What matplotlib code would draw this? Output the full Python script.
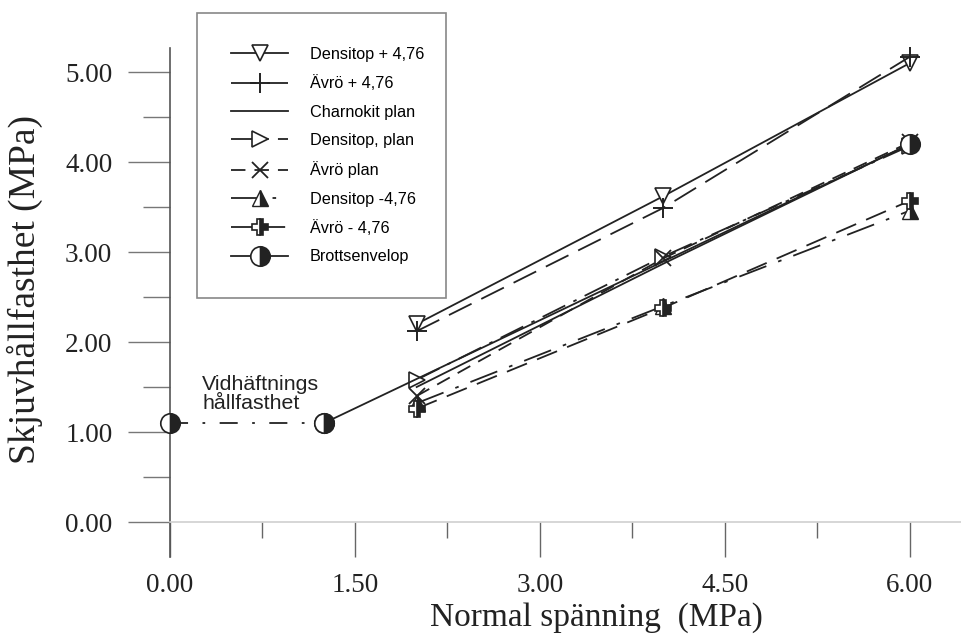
import matplotlib
matplotlib.use("Agg")
import matplotlib.pyplot as plt

# ======== Data =========

normal_stress = [2.0, 4.0, 6.0]

densitop_plus = [2.20, 3.62, 5.10]
avro_plus = [2.12, 3.49, 5.17]
charnokit_plan = [1.50, 2.87, 4.20]
densitop_plan = [1.58, 2.95, 4.18]
avro_plan = [1.40, 2.93, 4.22]
densitop_minus = [1.32, 2.40, 3.46]
avro_minus = [1.26, 2.38, 3.57]

# Brottsenvelop: flat adhesion part, then the rising failure line
adhesion_x = [0.0, 1.25]
adhesion_y = [1.10, 1.10]
envelope_x = [1.25, 6.0]
envelope_y = [1.10, 4.20]

x_major = [0.0, 1.5, 3.0, 4.5, 6.0]
x_minor = [0.75, 2.25, 3.75, 5.25]
y_major = [0.0, 1.0, 2.0, 3.0, 4.0, 5.0]
y_minor = [0.5, 1.5, 2.5, 3.5, 4.5]

# ======== Figure =========

W, H = 961, 636
fig = plt.figure(figsize=(W / 100, H / 100), dpi=100)
ax = fig.add_axes([170 / W, 79 / H, 791 / W, 509 / H])
ax.set_xlim(0, 791 / 123.33)
ax.set_ylim(-35 / 90, 474 / 90)

ink = "#222222"
lw = 1.3

ax.plot(normal_stress, densitop_plus, color=ink, lw=lw, ls="-",
        marker="v", ms=11, mfc="white", mec=ink, mew=1.2,
        label="Densitop + 4,76", clip_on=False)
ax.plot(normal_stress, avro_plus, color=ink, lw=lw, dashes=(14, 6),
        marker="+", ms=15, mec=ink, mew=1.4,
        label="Ävrö + 4,76", clip_on=False)
ax.plot(normal_stress, charnokit_plan, color=ink, lw=lw, ls="-",
        label="Charnokit plan", clip_on=False)
ax.plot(normal_stress, densitop_plan, color=ink, lw=lw, dashes=(14, 5, 2, 5),
        marker=">", ms=11, mfc="white", mec=ink, mew=1.2,
        label="Densitop, plan", clip_on=False)
ax.plot(normal_stress, avro_plan, color=ink, lw=lw, dashes=(8, 5),
        marker="x", ms=11, mec=ink, mew=1.3,
        label="Ävrö plan", clip_on=False)
ax.plot(normal_stress, densitop_minus, color=ink, lw=lw, dashes=(16, 7, 2, 7),
        marker="^", ms=11, fillstyle="right", mfc=ink, mfcalt="white",
        mec=ink, mew=1.0, label="Densitop -4,76", clip_on=False)
ax.plot(normal_stress, avro_minus, color=ink, lw=lw, dashes=(12, 6),
        marker="P", ms=12, fillstyle="right", mfc=ink, mfcalt="white",
        mec=ink, mew=1.2, label="Ävrö - 4,76", clip_on=False)

ax.plot(adhesion_x, adhesion_y, color=ink, lw=lw, dashes=(10, 8, 1.5, 8),
        marker="o", ms=14, fillstyle="right", mfc=ink, mfcalt="white",
        mec=ink, mew=1.2, clip_on=False, zorder=4)
ax.plot(envelope_x, envelope_y, color=ink, lw=lw, ls="-",
        marker="o", ms=14, fillstyle="right", mfc=ink, mfcalt="white",
        mec=ink, mew=1.2, label="Brottsenvelop", clip_on=False, zorder=4)

ax.text(0.26, 1.63, "Vidhäftnings\nhållfasthet", family="Liberation Sans",
        fontsize=15.4, ha="left", va="top", linespacing=1.0, color=ink)

# ======== Axes =========

ax.spines["top"].set_visible(False)
ax.spines["right"].set_visible(False)
ax.spines["left"].set_color("#555555")
ax.spines["left"].set_linewidth(1.2)
ax.spines["bottom"].set_position(("data", 0))
ax.spines["bottom"].set_color("#cfcfcf")
ax.spines["bottom"].set_linewidth(1.2)

ax.set_xticks(x_major)
ax.set_xticks(x_minor, minor=True)
ax.set_xticklabels([f"{v:.2f}" for v in x_major])
ax.set_yticks(y_major)
ax.set_yticks(y_minor, minor=True)
ax.set_yticklabels([f"{v:.2f}" for v in y_major])

serif = "Liberation Serif"
ax.tick_params(axis="x", which="major", direction="out", length=25, width=1.0,
               color="#666666", pad=12, labelsize=19.5, labelcolor=ink)
ax.tick_params(axis="x", which="minor", direction="out", length=11.5, width=1.0,
               color="#666666")
ax.tick_params(axis="y", which="major", direction="out", length=30, width=1.0,
               color="#777777", pad=11.5, labelsize=19.5, labelcolor=ink)
ax.tick_params(axis="y", which="minor", direction="out", length=19.5, width=1.0,
               color="#777777")
for lab in ax.get_xticklabels() + ax.get_yticklabels():
    lab.set_family(serif)

ax.set_xlabel("Normal spänning  (MPa)", family=serif, fontsize=24, color=ink)
ax.xaxis.set_label_coords(0.5386, -0.088)
ax.set_ylabel("Skjuvhållfasthet (MPa)", family=serif, fontsize=27, color=ink)
ax.yaxis.set_label_coords(-0.1606, 0.5246)

leg = ax.legend(loc="upper left",
                bbox_to_anchor=(197 / W, 1 - 293 / H, 249 / W, 280 / H),
                bbox_transform=fig.transFigure, mode="expand",
                prop={"family": "Liberation Sans", "size": 11.7},
                numpoints=1, handlelength=3.5, handletextpad=1.35,
                labelspacing=0.82, borderpad=2.1, borderaxespad=0,
                fancybox=False, framealpha=1, edgecolor="#888888")
leg.get_frame().set_linewidth(1.2)

fig.savefig("out.png", dpi=100)
